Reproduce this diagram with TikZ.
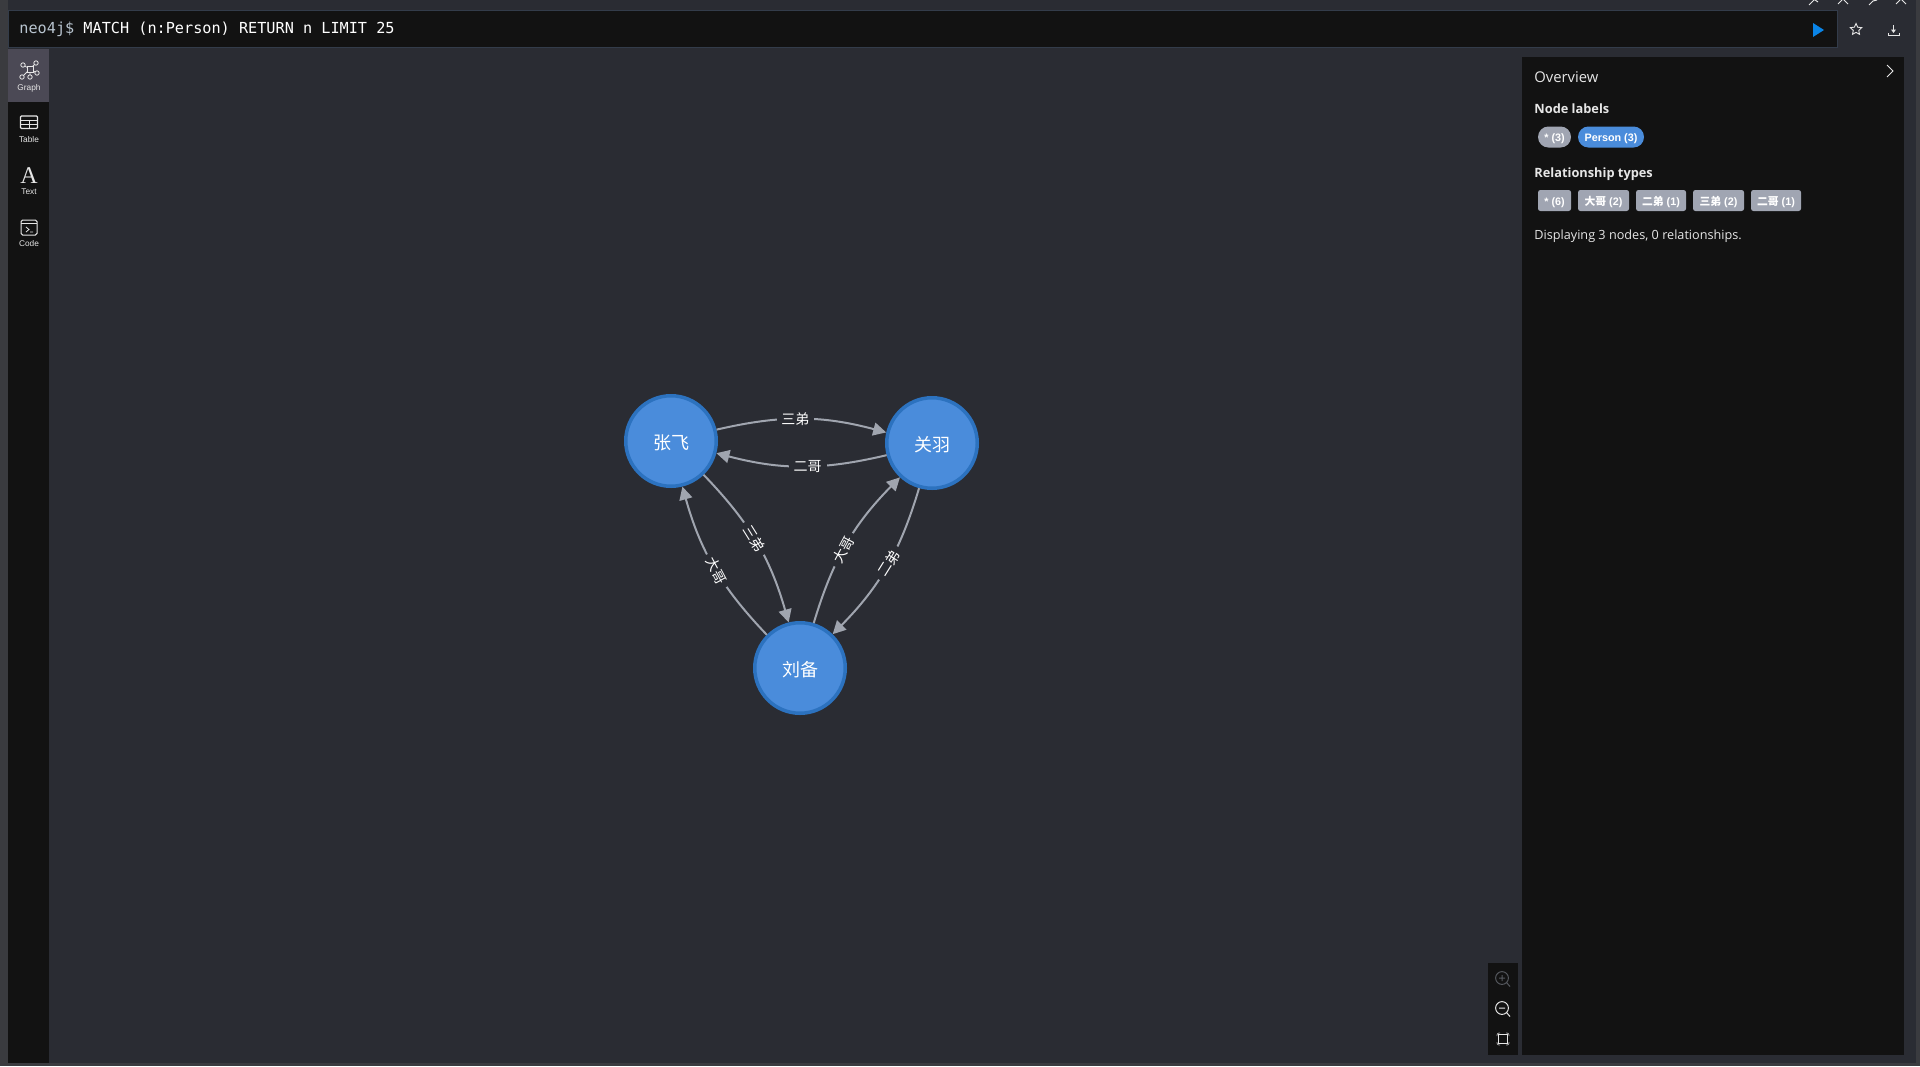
\documentclass[tikz,border=0pt]{standalone}
\usepackage{fontspec}
\setmainfont{Open Sans}
\newfontfamily\cjk{Noto Sans CJK SC}
\newfontfamily\mono{DejaVu Sans Mono}
\newfontfamily\arial{Liberation Sans}
\newfontfamily\tnr{Liberation Serif}
\usetikzlibrary{arrows.meta,shapes.geometric}
\definecolor{bg}{HTML}{2A2C33}
\definecolor{edgebg}{HTML}{3A3B3F}
\definecolor{dark}{HTML}{121212}
\definecolor{frame}{HTML}{333C4A}
\definecolor{active}{HTML}{4B4955}
\definecolor{nodefill}{HTML}{4A8CDB}
\definecolor{nodeline}{HTML}{2C72BF}
\definecolor{rel}{HTML}{A0A5AF}
\definecolor{chipgrey}{HTML}{A0A5B2}
\definecolor{soft}{HTML}{E6E6E6}
\definecolor{play}{HTML}{0A84E6}
\definecolor{dim}{HTML}{55585E}
\tikzset{
  person/.style={circle,draw=nodeline,fill=nodefill,line width=1.75pt,minimum size=45.25pt,inner sep=0pt,text=white,font=\cjk\fontsize{9}{10}\selectfont},
  rel arrow/.style={draw=rel,line width=1pt,-{Triangle[length=6.5pt,width=6.5pt,fill=rel]},bend left=14},
  rel label/.style={fill=bg,text=white,inner xsep=2.4pt,inner ysep=0.5pt,font=\cjk\fontsize{7}{8}\selectfont},
  side label/.style={text=soft,inner sep=0pt,font=\arial\fontsize{4.15}{5}\selectfont},
  heading/.style={anchor=west,text=soft,inner sep=0pt,font=\bfseries\fontsize{6.4}{8}\selectfont},
  chip/.style={text=white,inner sep=0pt,minimum height=10.5pt,font=\arial\bfseries\fontsize{5.4}{6}\selectfont},
  pill/.style={chip,fill=chipgrey,rounded corners=5.2pt},
  rect chip/.style={chip,fill=chipgrey,rounded corners=1.2pt},
  icon/.style={draw=soft,line width=0.5pt,fill=none},
}
\newcommand{\lownode}[1]{\raisebox{-4.2pt}[0pt][0pt]{#1}}
\newcommand{\lowchip}[1]{\raisebox{-2.3pt}[0pt][0pt]{#1}}
\begin{document}
\begin{tikzpicture}[x=0.5pt,y=-0.5pt]
\useasboundingbox (0,0) rectangle (1920,1066);
% window and canvas
\fill[edgebg] (0,0) rectangle (1920,1066);
\fill[bg] (8,0) rectangle (1916,1063);
% editor bar
\draw[fill=dark,draw=frame,line width=0.5pt] (8.5,10.5) rectangle (1837,47);
\node[anchor=west,inner sep=0pt,font=\mono\fontsize{7.6}{9}\selectfont,text=white] (query) at (19,29.5) {\textcolor[HTML]{B8C4CF}{neo4j\$} MATCH (n:Person) RETURN n LIMIT 25};
\fill[play] (1813,23) -- (1824,30) -- (1813,37) -- cycle;
% star
\node[star,star points=5,star point ratio=2.1,draw=soft,line width=0.45pt,minimum size=6pt,inner sep=0pt] (favstar) at (1856,29.5) {};
% download
\draw[icon,line width=0.4pt] (1888,33) -- (1888,35) -- (1899,35) -- (1899,33);
\draw[icon,line width=0.4pt] (1893.5,25) -- (1893.5,31);
\fill[soft] (1891,29.5) -- (1896,29.5) -- (1893.5,33) -- cycle;
% window buttons clipped at the top
\begin{scope}
\clip (0,0) rectangle (1920,5);
\draw[icon] (1809,5) -- (1815,-1) (1812,-2) -- (1818,2);
\draw[icon] (1838,4) -- (1843,-1) -- (1848,4);
\draw[icon] (1869,5) -- (1873,1) -- (1877,0);
\draw[icon] (1896,4) -- (1901,-1) -- (1906,4);
\end{scope}
% sidebar
\fill[dark] (8,49) rectangle (49,1063);
\fill[active] (8,49) rectangle (49,102);
% graph icon
\draw[icon,line width=0.4pt] (30,69) -- (23,65) (30,69) -- (36,63) (30,69) -- (37,73) (30,69) -- (30,76) (30,69) -- (23,76);
\draw[icon,fill=active,line width=0.4pt] (27,66) rectangle (33.5,72.5);
\foreach \p in {(23,65),(36,63),(37,73),(30,77),(22,77)} \draw[icon,fill=active,line width=0.4pt] \p circle (1.1pt);
\node[side label] (graphlabel) at (29,88) {Graph};
% table icon
\draw[icon,line width=0.6pt,rounded corners=0.5pt] (20.5,116) rectangle (37.5,128.5);
\draw[icon,line width=0.5pt] (20.5,120) -- (37.5,120) (20.5,124) -- (37.5,124) (29,120) -- (29,128.5);
\node[side label] (tablelabel) at (29,140) {Table};
% text icon
\node[text=soft,inner sep=0pt,font=\tnr\fontsize{12}{13}\selectfont] (textglyph) at (29,176) {A};
\node[side label] (textlabel) at (29,192) {Text};
% code icon
\draw[icon,line width=0.5pt,rounded corners=0.8pt] (21,220) rectangle (37,235);
\draw[icon,line width=0.5pt] (21,223.5) -- (37,223.5);
\draw[icon,line width=0.4pt] (26,227) -- (29,229.5) -- (26,232) (30,232) -- (33,232);
\node[side label] (codelabel) at (29,244) {Code};
% overview panel
\fill[dark] (1522,57) rectangle (1904,1055);
\draw[soft,line width=0.5pt] (1887,65) -- (1893,71) -- (1887,77);
\node[anchor=west,text=soft,inner sep=0pt,font=\fontsize{7.4}{9}\selectfont] (overview) at (1534,77) {Overview};
\node[heading] (nodelabels) at (1534,108.5) {Node labels};
\node[pill,minimum width=16.5pt] (chipall) at (1554.5,137) {\lowchip{* (3)}};
\node[pill,fill=nodefill,minimum width=33pt] (chipperson) at (1611,137) {\lowchip{Person (3)}};
\node[heading] (reltypes) at (1534,174) {Relationship types};
\node[rect chip,minimum width=16.5pt] (relall) at (1554.5,200.5) {\lowchip{* (6)}};
\node[rect chip,minimum width=25.5pt] (relda) at (1603.5,200.5) {\lowchip{{\cjk\bfseries 大哥} (2)}};
\node[rect chip,minimum width=25pt] (reler) at (1661,200.5) {\lowchip{{\cjk\bfseries 二弟} (1)}};
\node[rect chip,minimum width=25.5pt] (relsan) at (1718.5,200.5) {\lowchip{{\cjk\bfseries 三弟} (2)}};
\node[rect chip,minimum width=25pt] (relge) at (1776,200.5) {\lowchip{{\cjk\bfseries 二哥} (1)}};
\node[anchor=west,text=soft,inner sep=0pt,font=\fontsize{6.33}{8}\selectfont] (display) at (1534,236.5) {Displaying 3 nodes, 0 relationships.};
% zoom buttons
\fill[dark] (1488,963) rectangle (1518,1055);
\draw[dim,line width=0.5pt] (1502,978) circle (3.2pt);
\draw[dim,line width=0.5pt] (1506.5,982.5) -- (1510,986.5) (1499,978) -- (1505,978) (1502,975) -- (1502,981);
\draw[soft,line width=0.5pt] (1502,1008) circle (3.2pt);
\draw[soft,line width=0.5pt] (1506.5,1012.5) -- (1510,1016.5) (1499,1008) -- (1505,1008);
\draw[soft,line width=0.5pt] (1498.5,1034.5) rectangle (1507.5,1043.5);
\draw[soft!70!black,line width=0.4pt,rounded corners=1pt]
  (1497,1036) -- (1497,1033) -- (1500,1033)
  (1506,1033) -- (1509,1033) -- (1509,1036)
  (1509,1042) -- (1509,1045) -- (1506,1045)
  (1500,1045) -- (1497,1045) -- (1497,1042);
% graph
\node[person] (zf) at (671,441) {\lownode{张飞}};
\node[person] (gy) at (932,443) {\lownode{关羽}};
\node[person] (lb) at (800,668) {\lownode{刘备}};
\draw[rel arrow] (zf.14) to node[rel label,pos=.46] (e1) {三弟} (gy.167);
\draw[rel arrow] (gy.195) to node[rel label,pos=.46] (e2) {二哥} (zf.-15);
\draw[rel arrow] (zf.-46) to node[rel label,pos=.47,rotate=-58] (e3) {三弟} (lb.104);
\draw[rel arrow] (lb.135) to node[rel label,pos=.47,rotate=-62] (e4) {大哥} (zf.-76);
\draw[rel arrow] (lb.73) to node[rel label,pos=.46,rotate=62] (e5) {大哥} (gy.-133);
\draw[rel arrow] (gy.-106) to node[rel label,pos=.47,rotate=58] (e6) {二弟} (lb.46);
\end{tikzpicture}
\end{document}
